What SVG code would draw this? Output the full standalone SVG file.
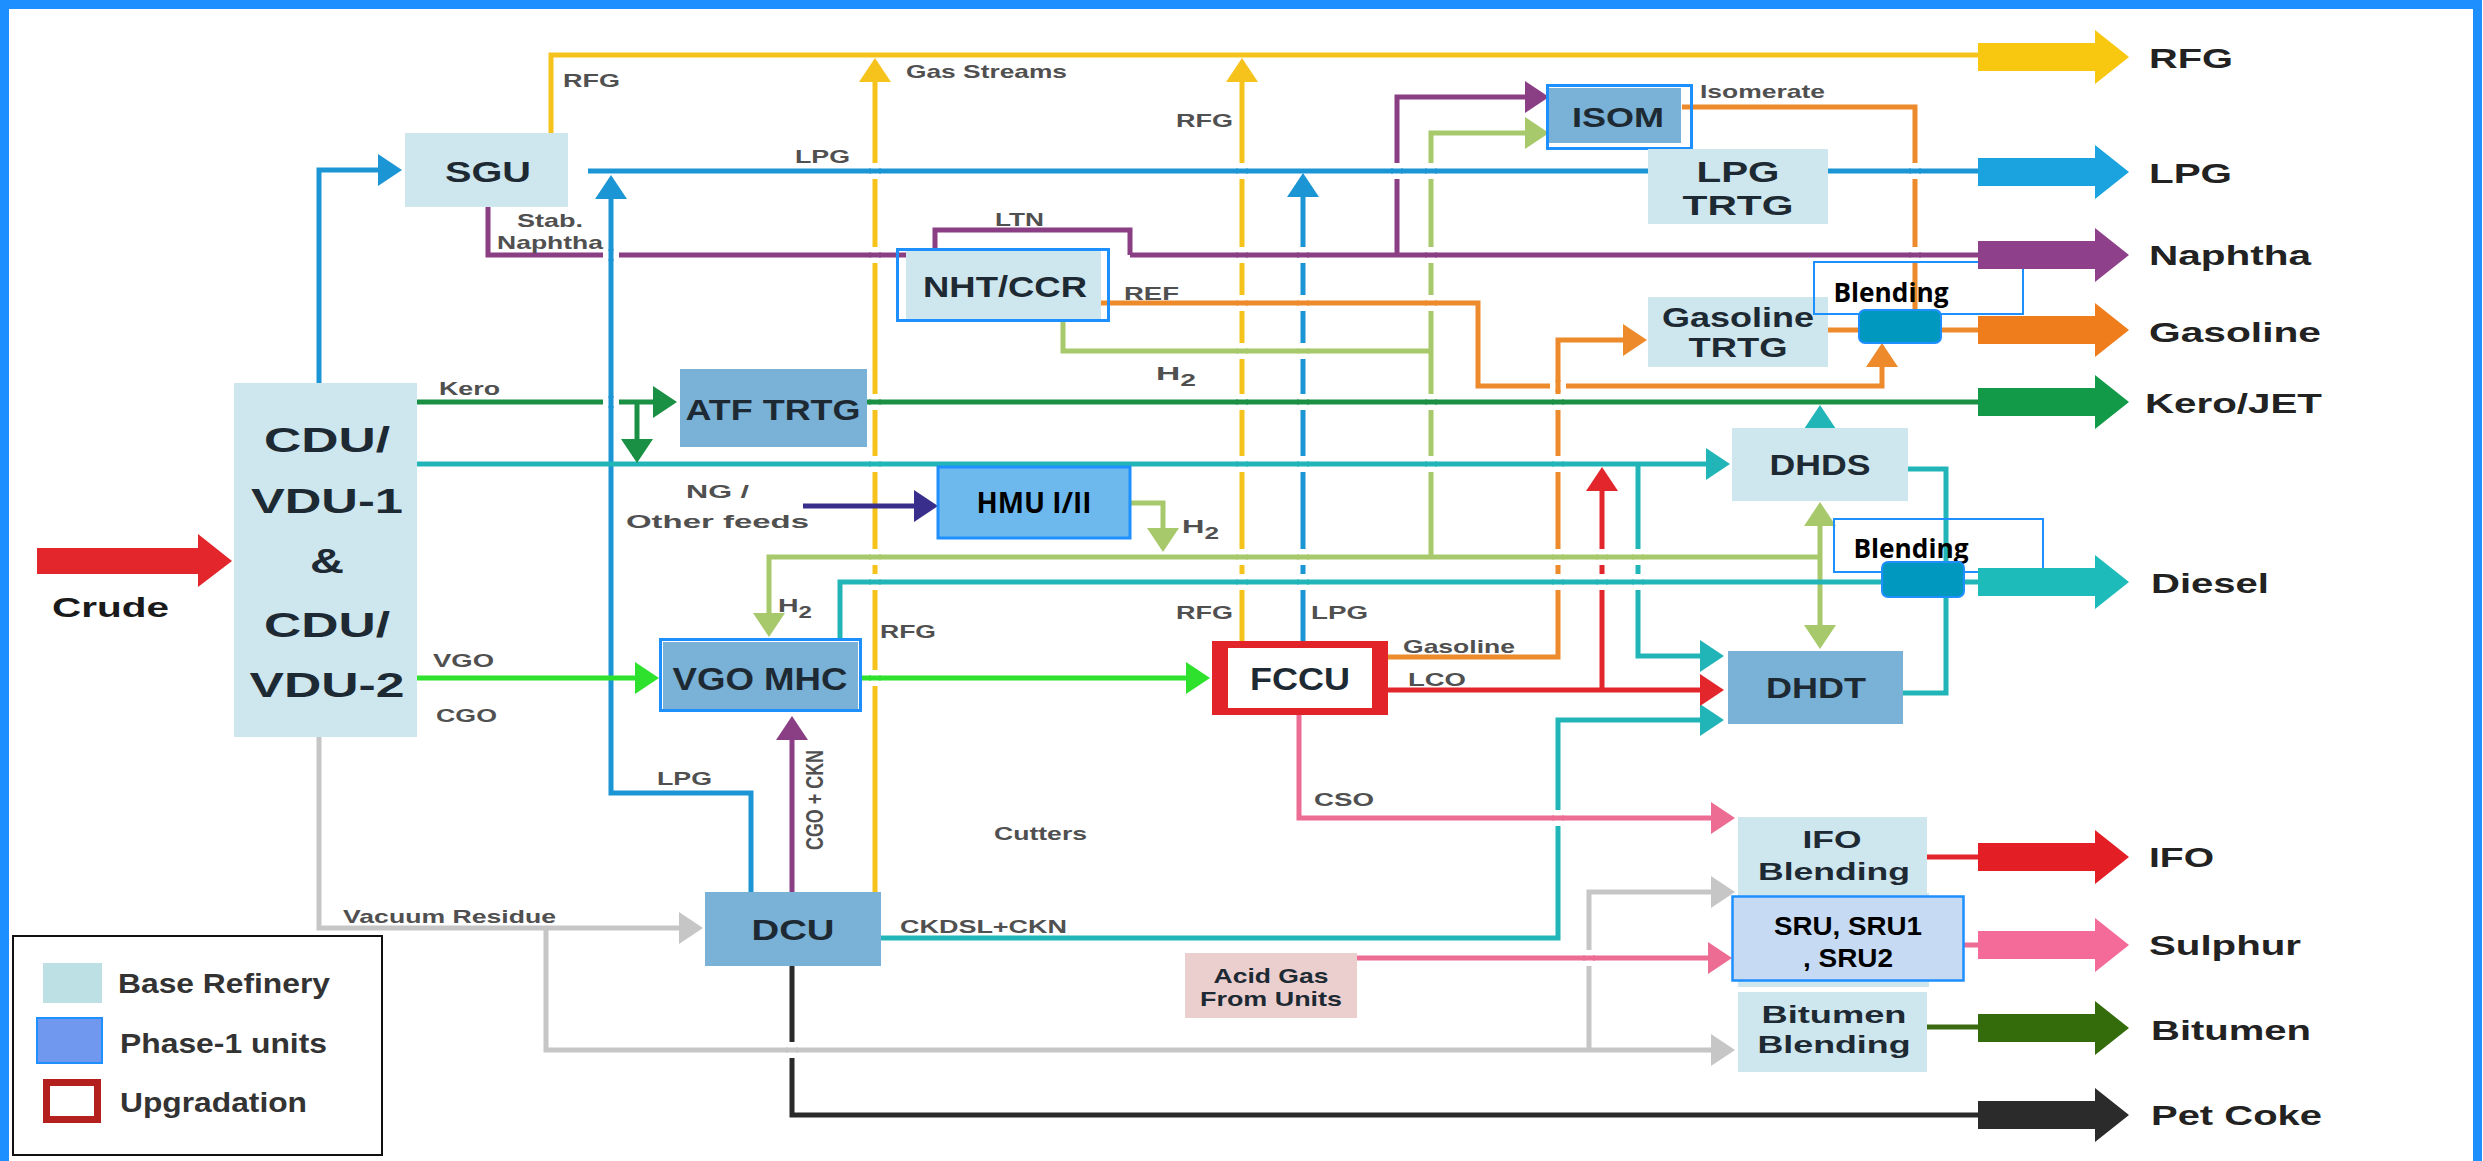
<svg xmlns="http://www.w3.org/2000/svg" width="2483" height="1161" viewBox="0 0 2483 1161">
<style>
text{font-family:"Liberation Sans",Arial,sans-serif;font-weight:bold}
.nt{fill:#1e2a33;text-anchor:middle}
.lb{fill:#505050;font-size:19px}
.ot{fill:#222;font-size:28px}
.lg{fill:#333;font-size:28px}
.cb{font-family:"Open Sans","Liberation Sans",sans-serif;fill:#000;text-anchor:middle}
.cs{fill:#000;text-anchor:middle}
.ln{fill:none;stroke-width:5}
.y{stroke:#F6C31C}.b{stroke:#1C95D4}.p{stroke:#8A3F84}.g{stroke:#A8C96B}.o{stroke:#EC8A2C}
.t{stroke:#22B5B8}.r{stroke:#E2262C}.k{stroke:#1A9044}.v{stroke:#2DE12D}.i{stroke:#3A2E8C}
.pk{stroke:#EC6C93}.gr{stroke:#C6C6C6}.bk{stroke:#2A2A2A}.bt{stroke:#3A6B10}
.base{fill:#CEE6ED}
.ph1{fill:#7AB1D6}
.hl{fill:none;stroke:#1E8FFF;stroke-width:3}
.bl{fill:none;stroke:#1E8FFF;stroke-width:2}
.blt{fill:#0098BF;stroke:#1E8FFF;stroke-width:2}
</style>
<defs>
<path id="ba" d="M0,-14H117V-27L151,0L117,27V14H0Z"/>
<marker id="mY" markerUnits="userSpaceOnUse" markerWidth="24" markerHeight="32" refX="19" refY="16" orient="auto-start-reverse" viewBox="0 0 24 32"><path d="M0,0L24,16L0,32Z" fill="#F6C31C"/></marker>
<marker id="mB" markerUnits="userSpaceOnUse" markerWidth="24" markerHeight="32" refX="19" refY="16" orient="auto-start-reverse" viewBox="0 0 24 32"><path d="M0,0L24,16L0,32Z" fill="#1C95D4"/></marker>
<marker id="mP" markerUnits="userSpaceOnUse" markerWidth="24" markerHeight="32" refX="19" refY="16" orient="auto-start-reverse" viewBox="0 0 24 32"><path d="M0,0L24,16L0,32Z" fill="#8A3F84"/></marker>
<marker id="mG" markerUnits="userSpaceOnUse" markerWidth="24" markerHeight="32" refX="19" refY="16" orient="auto-start-reverse" viewBox="0 0 24 32"><path d="M0,0L24,16L0,32Z" fill="#A8C96B"/></marker>
<marker id="mO" markerUnits="userSpaceOnUse" markerWidth="24" markerHeight="32" refX="19" refY="16" orient="auto-start-reverse" viewBox="0 0 24 32"><path d="M0,0L24,16L0,32Z" fill="#EC8A2C"/></marker>
<marker id="mT" markerUnits="userSpaceOnUse" markerWidth="24" markerHeight="32" refX="19" refY="16" orient="auto-start-reverse" viewBox="0 0 24 32"><path d="M0,0L24,16L0,32Z" fill="#22B5B8"/></marker>
<marker id="mR" markerUnits="userSpaceOnUse" markerWidth="24" markerHeight="32" refX="19" refY="16" orient="auto-start-reverse" viewBox="0 0 24 32"><path d="M0,0L24,16L0,32Z" fill="#E2262C"/></marker>
<marker id="mK" markerUnits="userSpaceOnUse" markerWidth="24" markerHeight="32" refX="19" refY="16" orient="auto-start-reverse" viewBox="0 0 24 32"><path d="M0,0L24,16L0,32Z" fill="#1A9044"/></marker>
<marker id="mV" markerUnits="userSpaceOnUse" markerWidth="24" markerHeight="32" refX="19" refY="16" orient="auto-start-reverse" viewBox="0 0 24 32"><path d="M0,0L24,16L0,32Z" fill="#2DE12D"/></marker>
<marker id="mI" markerUnits="userSpaceOnUse" markerWidth="24" markerHeight="32" refX="19" refY="16" orient="auto-start-reverse" viewBox="0 0 24 32"><path d="M0,0L24,16L0,32Z" fill="#3A2E8C"/></marker>
<marker id="mPk" markerUnits="userSpaceOnUse" markerWidth="24" markerHeight="32" refX="19" refY="16" orient="auto-start-reverse" viewBox="0 0 24 32"><path d="M0,0L24,16L0,32Z" fill="#EC6C93"/></marker>
<marker id="mGr" markerUnits="userSpaceOnUse" markerWidth="24" markerHeight="32" refX="19" refY="16" orient="auto-start-reverse" viewBox="0 0 24 32"><path d="M0,0L24,16L0,32Z" fill="#C6C6C6"/></marker>
</defs>
<rect x="0" y="0" width="2483" height="1161" fill="#fff"/>
<rect x="4.5" y="4.5" width="2473" height="1170" fill="none" stroke="#1E8FFF" stroke-width="9"/>

<g id="connectors">
<path class="ln y" d="M551,133V55H1990"/>
<path class="ln y" d="M875,892V63" marker-end="url(#mY)"/>
<path class="ln y" d="M1242,641V63" marker-end="url(#mY)"/>
<path class="ln b" d="M319,383V170H397" marker-end="url(#mB)"/>
<path class="ln b" d="M588,171H1990"/>
<path class="ln b" d="M751,892V793H611V180" marker-end="url(#mB)"/>
<path class="ln b" d="M1303,641V178" marker-end="url(#mB)"/>
<path class="ln p" d="M488,207V255H906M935,250V230H1130V255M1130,255H1990"/>
<path class="ln p" d="M1397,255V97H1544" marker-end="url(#mP)"/>
<path class="ln p" d="M792,892V721" marker-end="url(#mP)"/>
<path class="ln g" d="M1063,320V351H1431"/>
<path class="ln g" d="M1431,557V133H1544" marker-end="url(#mG)"/>
<path class="ln g" d="M1820,557H769V632" marker-end="url(#mG)"/>
<path class="ln g" d="M1130,503H1163V547" marker-end="url(#mG)"/>
<path class="ln g" d="M1820,507V644" marker-start="url(#mG)" marker-end="url(#mG)"/>
<path class="ln o" d="M1682,107H1915V310"/>
<path class="ln o" d="M1101,303H1478V386H1882V348" marker-end="url(#mO)"/>
<path class="ln o" d="M1387,657H1558V340H1642" marker-end="url(#mO)"/>
<path class="ln o" d="M1828,330H1990"/>
<path class="ln t" d="M417,464H1725" marker-end="url(#mT)"/>
<path class="ln t" d="M1638,464V656H1719" marker-end="url(#mT)"/>
<path class="ln t" d="M1820,428V410" marker-end="url(#mT)"/>
<path class="ln t" d="M1908,469H1946V693H1903"/>
<path class="ln t" d="M840,638V582H1990"/>
<path class="ln t" d="M881,938H1558V720H1719" marker-end="url(#mT)"/>
<path class="ln r" d="M1387,690H1719" marker-end="url(#mR)"/>
<path class="ln r" d="M1602,690V472" marker-end="url(#mR)"/>
<path class="ln r" d="M1927,857H1990"/>
<path class="ln k" d="M417,402H672" marker-end="url(#mK)"/>
<path class="ln k" d="M637,402V458" marker-end="url(#mK)"/>
<path class="ln k" d="M867,402H1990"/>
<path class="ln v" d="M417,678H654" marker-end="url(#mV)"/>
<path class="ln v" d="M862,678H1205" marker-end="url(#mV)"/>
<path class="ln i" d="M803,506H933" marker-end="url(#mI)"/>
<path class="ln pk" d="M1299,714V818H1730" marker-end="url(#mPk)"/>
<path class="ln pk" d="M1357,958H1727" marker-end="url(#mPk)"/>
<path class="ln pk" d="M1964,945H1990"/>
<path class="ln gr" d="M319,737V928H698" marker-end="url(#mGr)"/>
<path class="ln gr" d="M546,928V1050H1730" marker-end="url(#mGr)"/>
<path class="ln gr" d="M1589,1050V892H1730" marker-end="url(#mGr)"/>
<path class="ln bk" d="M792,966V1115H1990"/>
<path class="ln bt" d="M1927,1027H1990"/>
<g id="bridges">
<path fill="#fff" d="M871,163h8v16h-8zM871,247h8v16h-8zM871,394h8v16h-8zM871,456h8v16h-8zM871,549h8v16h-8zM871,574h8v16h-8zM871,670h8v16h-8zM1238,163h8v16h-8zM1238,247h8v16h-8zM1238,295h8v16h-8zM1238,343h8v16h-8zM1238,394h8v16h-8zM1238,456h8v16h-8zM1238,549h8v16h-8zM1238,574h8v16h-8zM1299,247h8v16h-8zM1299,295h8v16h-8zM1299,343h8v16h-8zM1299,394h8v16h-8zM1299,456h8v16h-8zM1299,549h8v16h-8zM1299,574h8v16h-8zM1427,163h8v16h-8zM1427,247h8v16h-8zM1427,295h8v16h-8zM1427,394h8v16h-8zM1427,456h8v16h-8zM1393,163h8v16h-8zM1554,394h8v16h-8zM1554,456h8v16h-8zM1554,549h8v16h-8zM1554,574h8v16h-8zM1554,810h8v16h-8zM1598,549h8v16h-8zM1598,574h8v16h-8zM1634,549h8v16h-8zM1634,574h8v16h-8zM1911,163h8v16h-8zM1911,247h8v16h-8zM788,1042h8v16h-8zM1585,950h8v16h-8zM603,251h16v8h-16zM603,398h16v8h-16zM1550,382h16v8h-16z"/>
<path class="ln b" d="M869,171H881M1236,171H1248M1425,171H1437M1391,171H1403M1909,171H1921M611,249V261M611,396V408"/>
<path class="ln p" d="M869,255H881M1236,255H1248M1297,255H1309M1425,255H1437M1909,255H1921"/>
<path class="ln o" d="M1236,303H1248M1297,303H1309M1425,303H1437M1558,380V392"/>
<path class="ln g" d="M1236,351H1248M1297,351H1309M869,557H881M1236,557H1248M1297,557H1309M1552,557H1564M1596,557H1608M1632,557H1644"/>
<path class="ln k" d="M869,402H881M1236,402H1248M1297,402H1309M1425,402H1437M1552,402H1564"/>
<path class="ln t" d="M869,464H881M1236,464H1248M1297,464H1309M1425,464H1437M1552,464H1564M869,582H881M1236,582H1248M1297,582H1309M1552,582H1564M1596,582H1608M1632,582H1644"/>
<path class="ln v" d="M869,678H881"/>
<path class="ln pk" d="M1552,818H1564M1583,958H1595"/>
<path class="ln gr" d="M786,1050H798"/>
</g>
</g>

<g id="labels">
<text class="lb" x="563" y="87" textLength="57" lengthAdjust="spacingAndGlyphs">RFG</text>
<text class="lb" x="795" y="163" textLength="55" lengthAdjust="spacingAndGlyphs">LPG</text>
<text class="lb" x="517" y="227" textLength="66" lengthAdjust="spacingAndGlyphs">Stab.</text>
<text class="lb" x="497" y="249" textLength="106" lengthAdjust="spacingAndGlyphs">Naphtha</text>
<text class="lb" x="439" y="395" textLength="61" lengthAdjust="spacingAndGlyphs">Kero</text>
<text class="lb" x="906" y="78" textLength="161" lengthAdjust="spacingAndGlyphs">Gas Streams</text>
<text class="lb" x="1176" y="127" textLength="57" lengthAdjust="spacingAndGlyphs">RFG</text>
<text class="lb" x="995" y="226" textLength="49" lengthAdjust="spacingAndGlyphs">LTN</text>
<text class="lb" x="1124" y="300" textLength="55" lengthAdjust="spacingAndGlyphs">REF</text>
<text class="lb" x="1700" y="98" textLength="125" lengthAdjust="spacingAndGlyphs">Isomerate</text>
<text class="lb" x="686" y="498" font-size="22" textLength="63" lengthAdjust="spacingAndGlyphs">NG /</text>
<text class="lb" x="626" y="528" font-size="22" textLength="183" lengthAdjust="spacingAndGlyphs">Other feeds</text>
<text class="lb" x="433" y="667" textLength="61" lengthAdjust="spacingAndGlyphs">VGO</text>
<text class="lb" x="436" y="722" textLength="61" lengthAdjust="spacingAndGlyphs">CGO</text>
<text class="lb" x="880" y="638" textLength="56" lengthAdjust="spacingAndGlyphs">RFG</text>
<text class="lb" x="1176" y="619" textLength="57" lengthAdjust="spacingAndGlyphs">RFG</text>
<text class="lb" x="1311" y="619" textLength="57" lengthAdjust="spacingAndGlyphs">LPG</text>
<text class="lb" x="1403" y="653" textLength="112" lengthAdjust="spacingAndGlyphs">Gasoline</text>
<text class="lb" x="1408" y="686" textLength="58" lengthAdjust="spacingAndGlyphs">LCO</text>
<text class="lb" x="657" y="785" textLength="55" lengthAdjust="spacingAndGlyphs">LPG</text>
<text class="lb" x="994" y="840" textLength="93" lengthAdjust="spacingAndGlyphs">Cutters</text>
<text class="lb" x="900" y="933" textLength="167" lengthAdjust="spacingAndGlyphs">CKDSL+CKN</text>
<text class="lb" x="1314" y="806" textLength="60" lengthAdjust="spacingAndGlyphs">CSO</text>
<text class="lb" x="343" y="923" textLength="213" lengthAdjust="spacingAndGlyphs">Vacuum Residue</text>
<text class="lb" transform="translate(823,800) scale(1.3,1) rotate(-90)" x="0" y="0" text-anchor="middle" textLength="100" lengthAdjust="spacingAndGlyphs">CGO + CKN</text>
<text class="lb" x="1156" y="380" font-size="26" textLength="40" lengthAdjust="spacingAndGlyphs">H<tspan font-size="16" dy="6">2</tspan></text>
<text class="lb" x="778" y="612" font-size="26" textLength="34" lengthAdjust="spacingAndGlyphs">H<tspan font-size="16" dy="6">2</tspan></text>
<text class="lb" x="1182" y="533" font-size="26" textLength="37" lengthAdjust="spacingAndGlyphs">H<tspan font-size="16" dy="6">2</tspan></text>
<text x="52" y="617" font-size="28" fill="#1a1a1a" textLength="117" lengthAdjust="spacingAndGlyphs">Crude</text>
</g>

<g id="crude-arrow"><path d="M37,548H198V534L232,561L198,587V574H37Z" fill="#E2262C"/></g>

<g id="sgu"><rect class="base" x="405" y="133" width="163" height="74"/><text class="nt" x="488" y="182" font-size="30" textLength="86" lengthAdjust="spacingAndGlyphs">SGU</text></g>
<g id="cdu"><rect class="base" x="234" y="383" width="183" height="354"/>
<text class="nt" x="327" y="452" font-size="35" textLength="126" lengthAdjust="spacingAndGlyphs">CDU/</text>
<text class="nt" x="327" y="513" font-size="35" textLength="152" lengthAdjust="spacingAndGlyphs">VDU-1</text>
<text class="nt" x="327" y="573" font-size="35" textLength="34" lengthAdjust="spacingAndGlyphs">&amp;</text>
<text class="nt" x="327" y="637" font-size="35" textLength="126" lengthAdjust="spacingAndGlyphs">CDU/</text>
<text class="nt" x="327" y="697" font-size="35" textLength="155" lengthAdjust="spacingAndGlyphs">VDU-2</text></g>
<g id="atf"><rect class="ph1" x="680" y="369" width="187" height="78"/><text class="nt" x="773" y="420" font-size="30" textLength="175" lengthAdjust="spacingAndGlyphs">ATF TRTG</text></g>
<g id="nht"><rect class="base" x="906" y="250" width="195" height="70"/><rect class="hl" x="897.5" y="249.5" width="211" height="71"/><text class="nt" x="1005" y="297" font-size="30" textLength="164" lengthAdjust="spacingAndGlyphs">NHT/CCR</text></g>
<g id="isom"><rect class="ph1" x="1549" y="88" width="132" height="55"/><rect class="hl" x="1547.5" y="85.5" width="144" height="63"/><text class="nt" x="1618" y="127" font-size="28" textLength="92" lengthAdjust="spacingAndGlyphs">ISOM</text></g>
<g id="lpgtrtg"><rect class="base" x="1648" y="149" width="180" height="75"/><text class="nt" x="1738" y="182" font-size="30" textLength="83" lengthAdjust="spacingAndGlyphs">LPG</text><text class="nt" x="1738" y="215" font-size="28" textLength="111" lengthAdjust="spacingAndGlyphs">TRTG</text></g>
<g id="gastrtg"><rect class="base" x="1648" y="297" width="180" height="70"/><text class="nt" x="1738" y="327" font-size="28" textLength="152" lengthAdjust="spacingAndGlyphs">Gasoline</text><text class="nt" x="1738" y="357" font-size="28" textLength="99" lengthAdjust="spacingAndGlyphs">TRTG</text></g>
<g id="dhds"><rect class="base" x="1732" y="428" width="176" height="73"/><text class="nt" x="1820" y="475" font-size="30" textLength="101" lengthAdjust="spacingAndGlyphs">DHDS</text></g>
<g id="dhdt"><rect class="ph1" x="1728" y="651" width="175" height="73"/><text class="nt" x="1816" y="698" font-size="29" textLength="100" lengthAdjust="spacingAndGlyphs">DHDT</text></g>
<g id="hmu"><rect x="938" y="467" width="192" height="71" fill="#6DB9EE" stroke="#1E8FFF" stroke-width="3"/><text class="cb" x="1034" y="513" font-size="29" textLength="115" lengthAdjust="spacingAndGlyphs">HMU I/II</text></g>
<g id="vgomhc"><rect class="ph1" x="663" y="642" width="195" height="68"/><rect class="hl" x="660.5" y="639.5" width="200" height="71"/><text class="nt" x="760" y="690" font-size="31" textLength="175" lengthAdjust="spacingAndGlyphs">VGO MHC</text></g>
<g id="fccu"><rect x="1212" y="641" width="176" height="74" fill="#E2232A"/><rect x="1228" y="648" width="144" height="60" fill="#fff"/><text class="nt" x="1300" y="690" font-size="31" textLength="100" lengthAdjust="spacingAndGlyphs">FCCU</text></g>
<g id="dcu"><rect class="ph1" x="705" y="892" width="176" height="74"/><text class="nt" x="793" y="940" font-size="30" textLength="83" lengthAdjust="spacingAndGlyphs">DCU</text></g>
<g id="acidgas"><rect x="1185" y="953" width="172" height="65" fill="#EBCFCF"/><text class="nt" x="1271" y="983" font-size="21" textLength="115" lengthAdjust="spacingAndGlyphs">Acid Gas</text><text class="nt" x="1271" y="1006" font-size="21" textLength="142" lengthAdjust="spacingAndGlyphs">From Units</text></g>
<g id="ifo"><rect class="base" x="1738" y="817" width="189" height="78"/><text class="nt" x="1832" y="848" font-size="24" textLength="59" lengthAdjust="spacingAndGlyphs">IFO</text><text class="nt" x="1834" y="880" font-size="24" textLength="152" lengthAdjust="spacingAndGlyphs">Blending</text></g>
<g id="sru"><rect class="base" x="1738" y="893" width="191" height="94"/><rect x="1732.5" y="896.5" width="231" height="84" fill="#C6DAF4" stroke="#1E8FFF" stroke-width="2.5"/><text class="cs" x="1848" y="935" font-size="26" textLength="148" lengthAdjust="spacingAndGlyphs">SRU, SRU1</text><text class="cs" x="1848" y="967" font-size="26" textLength="90" lengthAdjust="spacingAndGlyphs">, SRU2</text></g>
<g id="bitumen"><rect class="base" x="1738" y="992" width="189" height="80"/><text class="nt" x="1834" y="1023" font-size="24" textLength="145" lengthAdjust="spacingAndGlyphs">Bitumen</text><text class="nt" x="1834" y="1053" font-size="24" textLength="153" lengthAdjust="spacingAndGlyphs">Blending</text></g>
<g id="blend-gasoline"><rect class="bl" x="1814" y="262" width="209" height="52"/><text class="cb" x="1891" y="302" font-size="27" textLength="115" lengthAdjust="spacingAndGlyphs">Blending</text><rect class="blt" x="1859" y="310" width="82" height="33" rx="6"/></g>
<g id="blend-diesel"><rect class="bl" x="1834" y="519" width="209" height="53"/><text class="cb" x="1911" y="558" font-size="27" textLength="115" lengthAdjust="spacingAndGlyphs">Blending</text><rect class="blt" x="1882" y="562" width="82" height="35" rx="6"/></g>

<g id="outputs">
<g id="out-rfg"><use href="#ba" x="1978" y="57" fill="#F8C70F"/><text class="ot" x="2149" y="68" textLength="84" lengthAdjust="spacingAndGlyphs">RFG</text></g>
<g id="out-lpg"><use href="#ba" x="1978" y="172" fill="#1AA3DF"/><text class="ot" x="2149" y="183" textLength="83" lengthAdjust="spacingAndGlyphs">LPG</text></g>
<g id="out-naphtha"><use href="#ba" x="1978" y="255" fill="#8E418A"/><text class="ot" x="2149" y="265" textLength="162" lengthAdjust="spacingAndGlyphs">Naphtha</text></g>
<g id="out-gasoline"><use href="#ba" x="1978" y="330" fill="#EF7D1B"/><text class="ot" x="2149" y="342" textLength="172" lengthAdjust="spacingAndGlyphs">Gasoline</text></g>
<g id="out-kero"><use href="#ba" x="1978" y="402" fill="#139A48"/><text class="ot" x="2145" y="413" textLength="177" lengthAdjust="spacingAndGlyphs">Kero/JET</text></g>
<g id="out-diesel"><use href="#ba" x="1978" y="582" fill="#1DBCBB"/><text class="ot" x="2151" y="593" textLength="118" lengthAdjust="spacingAndGlyphs">Diesel</text></g>
<g id="out-ifo"><use href="#ba" x="1978" y="857" fill="#E31E25"/><text class="ot" x="2149" y="867" textLength="65" lengthAdjust="spacingAndGlyphs">IFO</text></g>
<g id="out-sulphur"><use href="#ba" x="1978" y="945" fill="#F46A98"/><text class="ot" x="2149" y="955" textLength="152" lengthAdjust="spacingAndGlyphs">Sulphur</text></g>
<g id="out-bitumen"><use href="#ba" x="1978" y="1028" fill="#346C0B"/><text class="ot" x="2151" y="1040" textLength="160" lengthAdjust="spacingAndGlyphs">Bitumen</text></g>
<g id="out-petcoke"><use href="#ba" x="1978" y="1115" fill="#2B2B2B"/><text class="ot" x="2151" y="1125" textLength="171" lengthAdjust="spacingAndGlyphs">Pet Coke</text></g>
</g>

<g id="legend">
<rect x="13" y="936" width="369" height="219" fill="#fff" stroke="#111" stroke-width="2"/>
<rect x="43" y="963" width="59" height="40" fill="#BDE0E4"/>
<text class="lg" x="118" y="993" textLength="212" lengthAdjust="spacingAndGlyphs">Base Refinery</text>
<rect x="37" y="1018" width="65" height="45" fill="#6F98EE" stroke="#1E8FFF" stroke-width="2"/>
<text class="lg" x="120" y="1053" textLength="207" lengthAdjust="spacingAndGlyphs">Phase-1 units</text>
<rect x="46.5" y="1082.5" width="51" height="37" fill="#fff" stroke="#B3201E" stroke-width="7"/>
<text class="lg" x="120" y="1112" textLength="187" lengthAdjust="spacingAndGlyphs">Upgradation</text>
</g>
</svg>
